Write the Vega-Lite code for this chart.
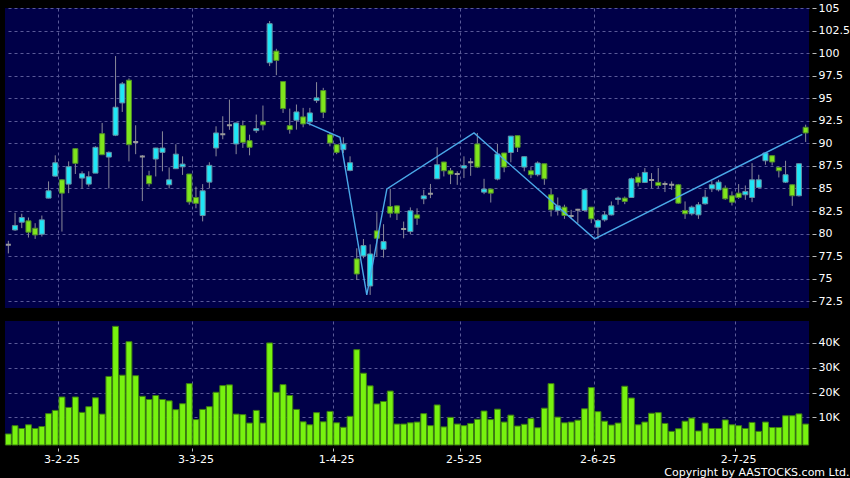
{
  "$schema": "https://vega.github.io/schema/vega-lite/v6.json",
  "background": "#000000",
  "padding": {"left": 4, "top": 2, "right": 0, "bottom": 0},
  "spacing": 13,
  "bounds": "flush",
  "title": {"text": "Copyright by AASTOCKS.com Ltd.", "orient": "bottom", "anchor": "end", "color": "#ffffff", "font": "DejaVu Sans", "fontSize": 11, "fontWeight": "normal", "offset": 3},
  "config": {
    "view": {"stroke": null},
    "axis": {"labelFont": "DejaVu Sans", "labelFontSize": 11, "labelColor": "#ffffff", "tickColor": "#bbbbbb", "gridColor": "#5a5a98", "gridDash": [3, 3], "gridWidth": 1, "domain": false, "title": null, "labelOverlap": false},
    "axisY": {"labelOverlap": false}
  },
  "datasets": {
    "px": [
      {"d":"2025-01-17","o":78.75,"h":79.2,"l":77.8,"c":78.75,"v":3300},
      {"d":"2025-01-20","o":80.4,"h":82.3,"l":80.3,"c":80.9,"v":6650},
      {"d":"2025-01-21","o":81.26,"h":82.2,"l":80.6,"c":81.78,"v":5500},
      {"d":"2025-01-22","o":81.41,"h":81.78,"l":79.56,"c":80.15,"v":7000},
      {"d":"2025-01-23","o":80.59,"h":81.15,"l":79.41,"c":79.85,"v":5500},
      {"d":"2025-01-24","o":79.93,"h":82.0,"l":79.67,"c":81.52,"v":6300},
      {"d":"2025-01-27","o":83.93,"h":85.78,"l":83.9,"c":84.74,"v":11500},
      {"d":"2025-01-28","o":86.37,"h":88.67,"l":86.3,"c":87.85,"v":12800},
      {"d":"2025-02-03","o":85.96,"h":86.0,"l":80.22,"c":84.48,"v":18200},
      {"d":"2025-02-04","o":85.48,"h":88.0,"l":84.48,"c":87.41,"v":14000},
      {"d":"2025-02-05","o":89.41,"h":89.45,"l":86.6,"c":87.78,"v":18200},
      {"d":"2025-02-06","o":86.15,"h":86.9,"l":85.0,"c":86.63,"v":12000},
      {"d":"2025-02-07","o":85.48,"h":86.9,"l":85.2,"c":86.3,"v":14300},
      {"d":"2025-02-10","o":86.7,"h":89.67,"l":86.7,"c":89.56,"v":17900},
      {"d":"2025-02-11","o":91.07,"h":92.26,"l":88.7,"c":88.74,"v":11300},
      {"d":"2025-02-12","o":88.48,"h":89.1,"l":85.0,"c":89.0,"v":26500},
      {"d":"2025-02-13","o":90.9,"h":99.67,"l":90.8,"c":94.0,"v":46700},
      {"d":"2025-02-14","o":94.48,"h":96.8,"l":93.48,"c":96.59,"v":27000},
      {"d":"2025-02-17","o":97.0,"h":97.2,"l":88.0,"c":89.85,"v":40500},
      {"d":"2025-02-18","o":90.15,"h":92.0,"l":88.8,"c":90.15,"v":26800},
      {"d":"2025-02-19","o":88.55,"h":88.7,"l":83.6,"c":88.55,"v":18500},
      {"d":"2025-02-20","o":86.41,"h":86.96,"l":85.2,"c":85.52,"v":17200},
      {"d":"2025-02-21","o":88.26,"h":89.5,"l":86.33,"c":89.48,"v":18800},
      {"d":"2025-02-24","o":89.0,"h":91.33,"l":86.9,"c":89.48,"v":17200},
      {"d":"2025-02-25","o":85.41,"h":87.33,"l":85.0,"c":85.96,"v":16650},
      {"d":"2025-02-26","o":87.19,"h":89.9,"l":87.15,"c":88.8,"v":13100},
      {"d":"2025-02-27","o":87.4,"h":88.56,"l":86.5,"c":87.7,"v":15500},
      {"d":"2025-02-28","o":86.6,"h":86.6,"l":83.2,"c":83.5,"v":23600},
      {"d":"2025-03-03","o":84.0,"h":85.2,"l":82.8,"c":83.35,"v":9100},
      {"d":"2025-03-04","o":82.0,"h":85.48,"l":81.35,"c":84.74,"v":13200},
      {"d":"2025-03-05","o":85.7,"h":87.9,"l":85.04,"c":87.56,"v":14300},
      {"d":"2025-03-06","o":89.48,"h":91.89,"l":88.56,"c":91.15,"v":20100},
      {"d":"2025-03-07","o":91.0,"h":93.0,"l":90.45,"c":91.0,"v":22800},
      {"d":"2025-03-10","o":92.0,"h":94.85,"l":91.5,"c":92.0,"v":23100},
      {"d":"2025-03-11","o":89.93,"h":92.3,"l":88.8,"c":92.26,"v":11300},
      {"d":"2025-03-12","o":91.96,"h":92.52,"l":89.5,"c":90.11,"v":11100},
      {"d":"2025-03-13","o":90.3,"h":90.96,"l":88.67,"c":89.56,"v":7700},
      {"d":"2025-03-14","o":91.41,"h":93.19,"l":91.15,"c":91.63,"v":12800},
      {"d":"2025-03-17","o":92.44,"h":94.19,"l":91.44,"c":92.04,"v":7700},
      {"d":"2025-03-18","o":98.93,"h":103.56,"l":98.56,"c":103.26,"v":40000},
      {"d":"2025-03-19","o":100.22,"h":100.48,"l":97.56,"c":99.19,"v":20100},
      {"d":"2025-03-20","o":96.85,"h":96.9,"l":93.37,"c":93.85,"v":23200},
      {"d":"2025-03-21","o":91.96,"h":93.85,"l":91.07,"c":91.52,"v":18800},
      {"d":"2025-03-24","o":92.56,"h":94.3,"l":91.52,"c":93.48,"v":13200},
      {"d":"2025-03-25","o":92.93,"h":93.93,"l":91.78,"c":92.15,"v":8200},
      {"d":"2025-03-26","o":92.37,"h":93.93,"l":91.96,"c":93.37,"v":7000},
      {"d":"2025-03-27","o":94.74,"h":96.78,"l":94.48,"c":95.04,"v":11900},
      {"d":"2025-03-28","o":95.85,"h":96.15,"l":92.8,"c":93.44,"v":8200},
      {"d":"2025-03-31","o":90.96,"h":91.15,"l":89.67,"c":90.04,"v":12400},
      {"d":"2025-04-01","o":89.85,"h":89.9,"l":88.8,"c":89.0,"v":7800},
      {"d":"2025-04-02","o":89.3,"h":90.67,"l":88.93,"c":89.93,"v":6000},
      {"d":"2025-04-03","o":87.0,"h":88.56,"l":86.9,"c":87.85,"v":10400},
      {"d":"2025-04-07","o":77.19,"h":78.37,"l":74.85,"c":75.52,"v":37300},
      {"d":"2025-04-08","o":77.52,"h":79.4,"l":77.26,"c":78.67,"v":27800},
      {"d":"2025-04-09","o":74.19,"h":78.8,"l":73.2,"c":77.74,"v":22700},
      {"d":"2025-04-10","o":80.3,"h":82.37,"l":77.44,"c":79.48,"v":15400},
      {"d":"2025-04-11","o":78.26,"h":81.04,"l":77.33,"c":79.11,"v":16400},
      {"d":"2025-04-14","o":83.0,"h":84.96,"l":81.78,"c":82.26,"v":20600},
      {"d":"2025-04-15","o":83.07,"h":83.1,"l":81.5,"c":82.26,"v":7300},
      {"d":"2025-04-16","o":80.5,"h":81.33,"l":79.48,"c":80.5,"v":7300},
      {"d":"2025-04-17","o":80.22,"h":82.9,"l":79.93,"c":82.52,"v":7800},
      {"d":"2025-04-22","o":82.07,"h":82.8,"l":80.96,"c":81.7,"v":8100},
      {"d":"2025-04-23","o":83.85,"h":84.85,"l":83.26,"c":84.18,"v":11500},
      {"d":"2025-04-24","o":84.4,"h":85.5,"l":83.93,"c":84.4,"v":6650},
      {"d":"2025-04-25","o":86.07,"h":89.56,"l":86.07,"c":87.63,"v":15000},
      {"d":"2025-04-28","o":87.93,"h":87.95,"l":86.33,"c":86.96,"v":6150},
      {"d":"2025-04-29","o":86.96,"h":87.26,"l":85.48,"c":86.59,"v":10000},
      {"d":"2025-04-30","o":86.6,"h":86.9,"l":85.4,"c":86.6,"v":7300},
      {"d":"2025-05-02","o":87.26,"h":88.56,"l":86.15,"c":87.52,"v":6650},
      {"d":"2025-05-06","o":87.9,"h":88.37,"l":86.4,"c":87.9,"v":7550},
      {"d":"2025-05-07","o":89.93,"h":91.15,"l":87.26,"c":87.37,"v":9200},
      {"d":"2025-05-08","o":84.59,"h":86.07,"l":84.37,"c":84.93,"v":12550},
      {"d":"2025-05-09","o":84.93,"h":84.95,"l":83.44,"c":84.48,"v":9100},
      {"d":"2025-05-12","o":86.04,"h":89.93,"l":85.9,"c":88.81,"v":13300},
      {"d":"2025-05-13","o":88.93,"h":88.95,"l":86.8,"c":87.37,"v":8100},
      {"d":"2025-05-14","o":88.99,"h":90.82,"l":87.9,"c":90.8,"v":10900},
      {"d":"2025-05-15","o":90.85,"h":90.87,"l":89.04,"c":89.56,"v":6500},
      {"d":"2025-05-16","o":87.37,"h":88.55,"l":86.9,"c":88.52,"v":7200},
      {"d":"2025-05-19","o":86.96,"h":87.37,"l":86.15,"c":86.52,"v":9500},
      {"d":"2025-05-20","o":86.52,"h":88.0,"l":86.33,"c":87.82,"v":5800},
      {"d":"2025-05-21","o":87.74,"h":87.76,"l":85.4,"c":86.07,"v":13700},
      {"d":"2025-05-22","o":84.3,"h":84.96,"l":81.9,"c":82.63,"v":23600},
      {"d":"2025-05-23","o":82.56,"h":84.0,"l":82.0,"c":83.07,"v":10100},
      {"d":"2025-05-26","o":82.93,"h":83.2,"l":81.63,"c":82.0,"v":7800},
      {"d":"2025-05-27","o":81.96,"h":82.63,"l":81.7,"c":81.96,"v":8100},
      {"d":"2025-05-28","o":82.63,"h":82.74,"l":81.15,"c":82.63,"v":8850},
      {"d":"2025-05-29","o":82.56,"h":84.87,"l":82.44,"c":84.85,"v":13450},
      {"d":"2025-05-30","o":82.93,"h":82.95,"l":81.15,"c":81.63,"v":22000},
      {"d":"2025-06-02","o":80.7,"h":81.6,"l":79.41,"c":81.44,"v":12300},
      {"d":"2025-06-03","o":81.52,"h":82.44,"l":81.33,"c":82.07,"v":8450},
      {"d":"2025-06-04","o":82.07,"h":83.56,"l":82.0,"c":83.07,"v":6900},
      {"d":"2025-06-05","o":83.78,"h":84.1,"l":83.2,"c":83.93,"v":7700},
      {"d":"2025-06-06","o":83.93,"h":84.1,"l":83.26,"c":83.56,"v":22550},
      {"d":"2025-06-09","o":84.0,"h":86.2,"l":83.95,"c":86.07,"v":17800},
      {"d":"2025-06-10","o":86.26,"h":86.7,"l":85.22,"c":85.67,"v":7000},
      {"d":"2025-06-11","o":85.67,"h":87.26,"l":85.6,"c":86.78,"v":8100},
      {"d":"2025-06-12","o":85.93,"h":86.7,"l":85.04,"c":85.93,"v":11650},
      {"d":"2025-06-13","o":85.67,"h":87.26,"l":85.04,"c":85.33,"v":11900},
      {"d":"2025-06-16","o":85.48,"h":85.78,"l":84.6,"c":85.48,"v":7550},
      {"d":"2025-06-17","o":85.4,"h":85.78,"l":84.85,"c":85.4,"v":4350},
      {"d":"2025-06-18","o":85.41,"h":85.5,"l":83.3,"c":83.37,"v":5400},
      {"d":"2025-06-19","o":82.56,"h":83.56,"l":81.63,"c":82.19,"v":8450},
      {"d":"2025-06-20","o":82.19,"h":83.1,"l":82.0,"c":82.93,"v":9700},
      {"d":"2025-06-23","o":82.07,"h":83.48,"l":81.63,"c":83.19,"v":4500},
      {"d":"2025-06-24","o":83.3,"h":84.85,"l":83.2,"c":84.04,"v":7700},
      {"d":"2025-06-25","o":84.96,"h":85.85,"l":84.6,"c":85.41,"v":5500},
      {"d":"2025-06-26","o":84.85,"h":85.96,"l":84.67,"c":85.7,"v":5500},
      {"d":"2025-06-27","o":85.04,"h":85.33,"l":83.74,"c":83.85,"v":8950},
      {"d":"2025-06-30","o":84.19,"h":84.67,"l":83.11,"c":83.48,"v":7000},
      {"d":"2025-07-02","o":84.48,"h":85.48,"l":83.85,"c":84.0,"v":6650},
      {"d":"2025-07-03","o":84.3,"h":85.33,"l":83.74,"c":84.67,"v":5500},
      {"d":"2025-07-04","o":84.0,"h":87.8,"l":83.48,"c":85.96,"v":7950},
      {"d":"2025-07-07","o":85.11,"h":86.52,"l":85.0,"c":85.96,"v":4350},
      {"d":"2025-07-08","o":88.07,"h":88.95,"l":87.63,"c":88.93,"v":8100},
      {"d":"2025-07-09","o":88.63,"h":88.65,"l":87.56,"c":87.93,"v":5900},
      {"d":"2025-07-10","o":87.33,"h":87.4,"l":86.22,"c":86.96,"v":5900},
      {"d":"2025-07-11","o":85.7,"h":88.07,"l":85.6,"c":86.52,"v":10650},
      {"d":"2025-07-14","o":85.41,"h":85.45,"l":83.07,"c":84.19,"v":10650},
      {"d":"2025-07-15","o":84.19,"h":87.76,"l":84.1,"c":87.74,"v":11400},
      {"d":"2025-07-16","o":91.78,"h":92.07,"l":90.15,"c":91.15,"v":7300}
    ],
    "zz": [
      {"d":"2025-03-26","p":92.3},
      {"d":"2025-04-02","p":90.67},
      {"d":"2025-04-09","p":73.2},
      {"d":"2025-04-14","p":84.96},
      {"d":"2025-05-07","p":91.15},
      {"d":"2025-06-02","p":79.41},
      {"d":"2025-07-16","p":91.0}
    ]
  },
  "vconcat": [
    {
      "width": 804,
      "height": 300,
      "view": {"fill": "#000048", "stroke": null},
      "layer": [
        {
          "data": {"name": "px"},
          "mark": {"type": "rule", "color": "#8a8a9a", "strokeWidth": 1},
          "encoding": {
            "x": {"field": "d", "type": "ordinal", "scale": {"paddingInner": 0, "paddingOuter": 0},
              "axis": {"values": ["2025-02-03","2025-03-03","2025-04-01","2025-05-02","2025-06-02","2025-07-02"], "bandPosition": 0, "grid": true, "labels": false, "ticks": false}},
            "y": {"field": "l", "type": "quantitative", "scale": {"domain": [71.75, 105], "nice": false, "zero": false},
              "axis": {"orient": "right", "values": [72.5,75,77.5,80,82.5,85,87.5,90,92.5,95,97.5,100,102.5,105], "labelExpr": "format(datum.value, '.1~f')", "labelOverlap": false, "labelSeparation": 0, "grid": true, "tickSize": 4, "offset": 3, "labelPadding": 2}},
            "y2": {"field": "h"}
          }
        },
        {
          "data": {"name": "px"},
          "mark": {"type": "bar", "width": {"band": 0.75}},
          "encoding": {
            "x": {"field": "d", "type": "ordinal"},
            "y": {"field": "o", "type": "quantitative",
              "axis": {"orient": "right", "values": [72.5,75,77.5,80,82.5,85,87.5,90,92.5,95,97.5,100,102.5,105], "labelExpr": "format(datum.value, '.1~f')", "labelOverlap": false, "labelSeparation": 0, "grid": true, "tickSize": 4, "offset": 3, "labelPadding": 2}},
            "y2": {"field": "c"},
            "fill": {"condition": [{"test": "datum.c > datum.o", "value": "#1fe6f6"}, {"test": "datum.c < datum.o", "value": "#7fe51c"}], "value": "#8e8e8e"},
            "stroke": {"condition": [{"test": "datum.c > datum.o", "value": "#6690a4"}, {"test": "datum.c < datum.o", "value": "#4f8a2c"}], "value": "#9a9a9a"},
            "strokeWidth": {"condition": {"test": "datum.c == datum.o", "value": 2}, "value": 1}
          }
        },
        {
          "data": {"name": "zz"},
          "mark": {"type": "line", "color": "#4aa8e8", "strokeWidth": 1.4},
          "encoding": {
            "x": {"field": "d", "type": "ordinal", "bandPosition": 0},
            "y": {"field": "p", "type": "quantitative",
              "axis": {"orient": "right", "values": [72.5,75,77.5,80,82.5,85,87.5,90,92.5,95,97.5,100,102.5,105], "labelExpr": "format(datum.value, '.1~f')", "labelOverlap": false, "labelSeparation": 0, "grid": true, "tickSize": 4, "offset": 3, "labelPadding": 2}}
          }
        }
      ]
    },
    {
      "width": 804,
      "height": 124,
      "view": {"fill": "#000048", "stroke": null},
      "data": {"name": "px"},
      "mark": {"type": "bar", "width": {"band": 0.88}, "fill": "#77f20f", "stroke": "#3c7c12", "strokeWidth": 1},
      "encoding": {
        "x": {"field": "d", "type": "ordinal", "scale": {"paddingInner": 0, "paddingOuter": 0},
          "axis": {"values": ["2025-02-03","2025-03-03","2025-04-01","2025-05-02","2025-06-02","2025-07-02"], "bandPosition": 0, "grid": true, "labelAngle": 0, "tickSize": 3, "offset": 3, "labelPadding": 2,
            "labelExpr": "parseInt(substring(datum.value,8,10)) + '-' + parseInt(substring(datum.value,5,7)) + '-' + substring(datum.value,2,4)"}},
        "y": {"field": "v", "type": "quantitative", "scale": {"domain": [-1150, 48850], "nice": false, "zero": false},
          "axis": {"orient": "right", "values": [10000, 20000, 30000, 40000], "labelOverlap": false, "grid": true, "tickSize": 4, "offset": 3, "labelPadding": 2, "labelExpr": "datum.value / 1000 + 'K'"}},
        "y2": {"datum": -1150}
      }
    }
  ]
}
